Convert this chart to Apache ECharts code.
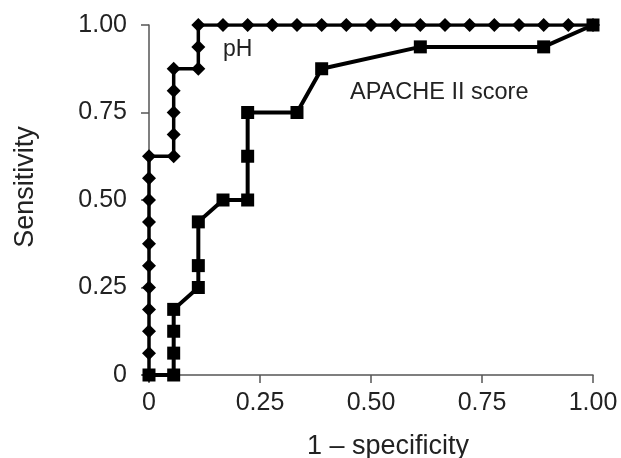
<!DOCTYPE html>
<html>
<head>
<meta charset="utf-8">
<script src="https://cdn.jsdelivr.net/npm/echarts@6/dist/echarts.min.js"></script>
<style>
html,body{margin:0;padding:0;background:#fff;}
#chart{width:621px;height:458px;}
</style>
</head>
<body>
<div id="chart"></div>
<script>
// ---- data ----
var phX = [0, 0, 0, 0, 0, 0, 0, 0, 0, 0, 0,
  0.0556, 0.0556, 0.0556, 0.0556, 0.0556,
  0.1111, 0.1111, 0.1111,
  0.1667, 0.2222, 0.2778, 0.3333, 0.3889, 0.4444, 0.5, 0.5556,
  0.6111, 0.6667, 0.7222, 0.7778, 0.8333, 0.8889, 0.9444, 1.0];
var phY = [0, 0.0625, 0.125, 0.1875, 0.25, 0.3125, 0.375, 0.4375, 0.5, 0.5625, 0.625,
  0.625, 0.6875, 0.75, 0.8125, 0.875,
  0.875, 0.9375, 1.0,
  1, 1, 1, 1, 1, 1, 1, 1,
  1, 1, 1, 1, 1, 1, 1, 1];
var apacheX = [0, 0.0556, 0.0556, 0.0556, 0.0556, 0.1111, 0.1111, 0.1111, 0.1667,
  0.2222, 0.2222, 0.2222, 0.3333, 0.3889, 0.6111, 0.8889, 1.0];
var apacheY = [0, 0, 0.0625, 0.125, 0.1875, 0.25, 0.3125, 0.4375, 0.5,
  0.5, 0.625, 0.75, 0.75, 0.875, 0.9375, 0.9375, 1.0];
var tickValues = [0, 0.25, 0.5, 0.75, 1.0];
var tickLabels = ['0', '0.25', '0.50', '0.75', '1.00'];
var seriesNames = ['pH', 'APACHE II score'];
var xTitle = '1 \u2013 specificity';
var yTitle = 'Sensitivity';

function pairs(xs, ys) { return xs.map(function (x, i) { return [x, ys[i]]; }); }
function fmt(v) {
  for (var i = 0; i < tickValues.length; i++) if (Math.abs(tickValues[i] - v) < 1e-9) return tickLabels[i];
  return '';
}

var FONT = '"Liberation Sans", Arial, Helvetica, sans-serif';
var axisCommon = {
  type: 'value', min: 0, max: 1, interval: 0.25,
  splitLine: { show: false },
  axisLine: { lineStyle: { color: '#555', width: 1.5 } },
  axisTick: { show: true, length: 8, lineStyle: { color: '#555', width: 1.5 } },
  nameLocation: 'middle'
};

var chart = echarts.init(document.getElementById('chart'), null, { renderer: 'canvas' });
chart.setOption({
  animation: false,
  backgroundColor: '#fff',
  grid: { left: 149, right: 28, top: 25, bottom: 83, containLabel: false, outerBoundsMode: 'none' },
  xAxis: Object.assign({}, axisCommon, {
    name: xTitle,
    nameGap: 58,
    nameTextStyle: { fontFamily: FONT, fontSize: 27, color: '#222', padding: [0, 0, 0, 34] },
    axisLabel: { formatter: fmt, margin: 16, fontFamily: FONT, fontSize: 25, color: '#222' }
  }),
  yAxis: Object.assign({}, axisCommon, {
    name: yTitle,
    nameGap: 110,
    nameRotate: 90,
    nameTextStyle: { fontFamily: FONT, fontSize: 27, color: '#222', padding: [0, 0, 0, 26] },
    axisLabel: { formatter: fmt, margin: 22, fontFamily: FONT, fontSize: 25, color: '#222' }
  }),
  series: [
    {
      name: seriesNames[0], type: 'line', data: pairs(phX, phY),
      symbol: 'diamond', symbolSize: 14, showSymbol: true,
      lineStyle: { color: '#000', width: 3.5 },
      itemStyle: { color: '#000' }, z: 2
    },
    {
      name: seriesNames[1], type: 'line', data: pairs(apacheX, apacheY),
      symbol: 'rect', symbolSize: 13, showSymbol: true,
      lineStyle: { color: '#000', width: 4 },
      itemStyle: { color: '#000' }, z: 3
    }
  ],
  graphic: [
    { type: 'text', left: 223, top: 38, style: { text: seriesNames[0], font: '23px ' + FONT, fill: '#222' } },
    { type: 'text', left: 350, top: 81, style: { text: seriesNames[1], font: '23.5px ' + FONT, fill: '#222' } }
  ]
});
</script>
</body>
</html>
